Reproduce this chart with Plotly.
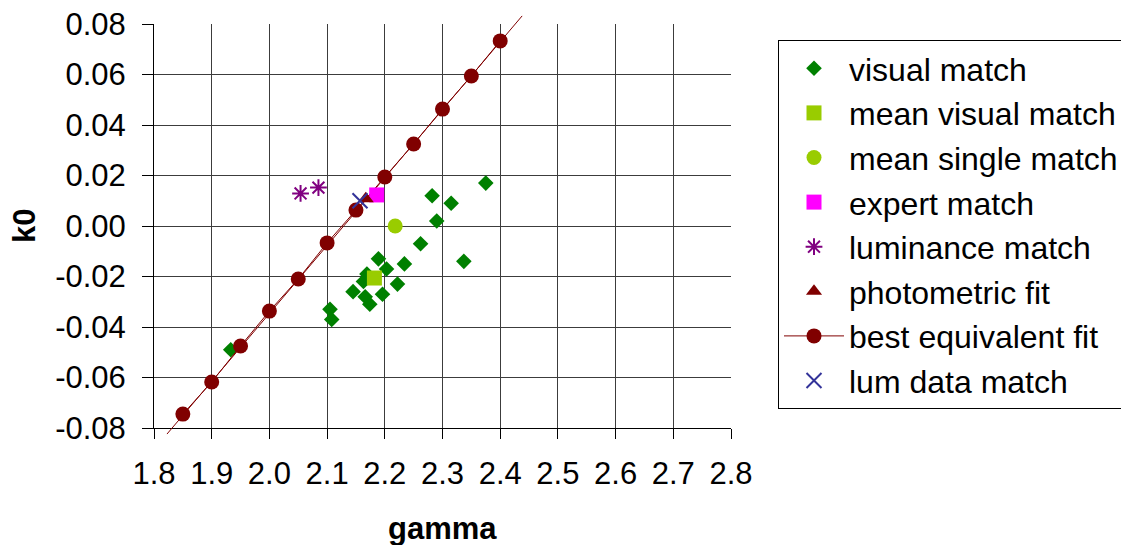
import plotly.graph_objects as go

# ---- data -------------------------------------------------------------
visual_gamma = [1.933, 2.105, 2.108, 2.145, 2.166, 2.163, 2.169, 2.174, 2.189,
                2.196, 2.203, 2.222, 2.234, 2.262, 2.282, 2.290, 2.315, 2.337, 2.375]
visual_k0 = [-0.049, -0.033, -0.037, -0.026, -0.028, -0.022, -0.019, -0.031, -0.013,
             -0.027, -0.017, -0.023, -0.015, -0.007, 0.012, 0.002, 0.009, -0.014, 0.017]

mean_visual_gamma = [2.182]
mean_visual_k0 = [-0.0206]

mean_single_gamma = [2.218]
mean_single_k0 = [0.000]

expert_gamma = [2.186]
expert_k0 = [0.0123]

luminance_gamma = [2.054, 2.085]
luminance_k0 = [0.0129, 0.0152]

photometric_gamma = [2.167]
photometric_k0 = [0.0108]

best_fit_gamma = [1.85, 1.90, 1.95, 2.00, 2.05, 2.10, 2.15, 2.20, 2.25, 2.30, 2.35, 2.40]
best_fit_k0 = [-0.0745, -0.0618, -0.0475, -0.0337, -0.0210, -0.0067,
               0.0063, 0.0194, 0.0325, 0.0463, 0.0594, 0.0733]
# end points of the fitted line, which runs past the plot frame
fit_line_gamma = [1.8225, 2.438]
fit_line_k0 = [-0.0824, 0.0832]

lum_data_gamma = [2.157]
lum_data_k0 = [0.010]

x_ticks = [1.8, 1.9, 2.0, 2.1, 2.2, 2.3, 2.4, 2.5, 2.6, 2.7, 2.8]
x_tick_text = ["1.8", "1.9", "2.0", "2.1", "2.2", "2.3", "2.4", "2.5", "2.6", "2.7", "2.8"]
y_ticks = [-0.08, -0.06, -0.04, -0.02, 0.0, 0.02, 0.04, 0.06, 0.08]
y_tick_text = ["-0.08", "-0.06", "-0.04", "-0.02", "0.00", "0.02", "0.04", "0.06", "0.08"]

# ---- geometry (pixels) -----------------------------------------------
W, H = 1121, 545
L, R, T, B = 154, 731, 0, 445          # plot area in page pixels
frame_top, frame_bot = 24, 428          # axis frame inside the plot area
ext_top, ext_bot = 8, 440               # taller strip used for the fit line
YMIN, YMAX = -0.08, 0.08
per_px = (YMAX - YMIN) / (frame_bot - frame_top)


def frac(p):
    return (B - p) / (B - T)


ext_range = [YMAX - (ext_bot - frame_top) * per_px, YMAX - (ext_top - frame_top) * per_px]

FONT = "Arial, Liberation Sans, sans-serif"
GRID = "#3c3c3c"

fig = go.Figure()

# empty trace so the framed axes (gridlines, ticks) are drawn
fig.add_trace(go.Scatter(x=[None], y=[None], mode="markers", showlegend=False,
                         hoverinfo="skip", xaxis="x", yaxis="y"))

common = dict(xaxis="x2", yaxis="y2")

fig.add_trace(go.Scatter(x=fit_line_gamma, y=fit_line_k0, mode="lines",
                         line=dict(color="#800000", width=1), showlegend=False,
                         hoverinfo="skip", **common))
fig.add_trace(go.Scatter(x=visual_gamma, y=visual_k0, mode="markers", name="visual match",
                         legendrank=1,
                         marker=dict(symbol="diamond", size=12, color="#008000"), **common))
fig.add_trace(go.Scatter(x=mean_visual_gamma, y=mean_visual_k0, mode="markers",
                         name="mean visual match", legendrank=2,
                         marker=dict(symbol="square", size=15, color="#99CC00"), **common))
fig.add_trace(go.Scatter(x=mean_single_gamma, y=mean_single_k0, mode="markers",
                         name="mean single match", legendrank=3,
                         marker=dict(symbol="circle", size=15, color="#99CC00"), **common))
fig.add_trace(go.Scatter(x=luminance_gamma, y=luminance_k0, mode="markers",
                         name="luminance match", legendrank=5,
                         marker=dict(symbol="asterisk-open", size=14, color="#800080",
                                     line=dict(color="#800080", width=2)), **common))
fig.add_trace(go.Scatter(x=best_fit_gamma, y=best_fit_k0, mode="lines+markers",
                         name="best equivalent fit", legendrank=7,
                         line=dict(color="#800000", width=1),
                         marker=dict(symbol="circle", size=15, color="#800000"), **common))
fig.add_trace(go.Scatter(x=expert_gamma, y=expert_k0, mode="markers", name="expert match",
                         legendrank=4,
                         marker=dict(symbol="square", size=15, color="#FF00FF"), **common))
fig.add_trace(go.Scatter(x=photometric_gamma, y=photometric_k0, mode="markers",
                         name="photometric fit", legendrank=6,
                         marker=dict(symbol="triangle-up", size=14, color="#800000"), **common))
fig.add_trace(go.Scatter(x=lum_data_gamma, y=lum_data_k0, mode="markers",
                         name="lum data match", legendrank=8,
                         marker=dict(symbol="x-thin-open", size=15, color="#333399",
                                     line=dict(color="#333399", width=2)), **common))

tick_font = dict(family=FONT, size=31, color="black")

fig.update_layout(
    width=W, height=H,
    margin=dict(l=L, r=W - R, t=T, b=H - B, autoexpand=False),
    paper_bgcolor="white", plot_bgcolor="rgba(0,0,0,0)",
    font=dict(family=FONT, size=31, color="black"),
    xaxis=dict(domain=[0, 1], range=[1.8, 2.8], anchor="y",
               tickmode="array", tickvals=x_ticks, ticktext=x_tick_text,
               showgrid=True, gridcolor=GRID, gridwidth=1, zeroline=False,
               showline=True, linecolor="black", linewidth=1,
               ticks="outside", ticklen=10, tickcolor="black", tickwidth=1,
               ticklabelstandoff=8, tickfont=tick_font, fixedrange=True),
    yaxis=dict(domain=[frac(frame_bot), frac(frame_top)], range=[YMIN, YMAX], anchor="x",
               tickmode="array", tickvals=y_ticks, ticktext=y_tick_text,
               showgrid=True, gridcolor=GRID, gridwidth=1, zeroline=False,
               showline=True, linecolor="black", linewidth=1,
               ticks="outside", ticklen=11, tickcolor="black", tickwidth=1,
               ticklabelstandoff=10, tickfont=tick_font, fixedrange=True),
    xaxis2=dict(domain=[0, 1], range=[1.8, 2.8], anchor="y2", visible=False,
                fixedrange=True),
    yaxis2=dict(domain=[frac(ext_bot), frac(ext_top)], range=ext_range, anchor="x2",
                visible=False, fixedrange=True),
    legend=dict(x=(778 - L) / (R - L), y=frac(40), xanchor="left", yanchor="top",
                bgcolor="white", bordercolor="black", borderwidth=1,
                font=dict(family=FONT, size=32, color="black"),
                itemwidth=60, tracegroupgap=0, traceorder="normal"),
    annotations=[
        dict(text="<b>gamma</b>", xref="paper", yref="paper",
             x=(442 - L) / (R - L), y=frac(528), xanchor="center", yanchor="middle",
             showarrow=False, font=dict(family=FONT, size=31, color="black")),
        dict(text="<b>k0</b>", xref="paper", yref="paper",
             x=(24 - L) / (R - L), y=frac(226), xanchor="center", yanchor="middle",
             textangle=-90, showarrow=False, font=dict(family=FONT, size=31, color="black")),
    ],
    showlegend=True,
)

fig.write_html("out.html")
